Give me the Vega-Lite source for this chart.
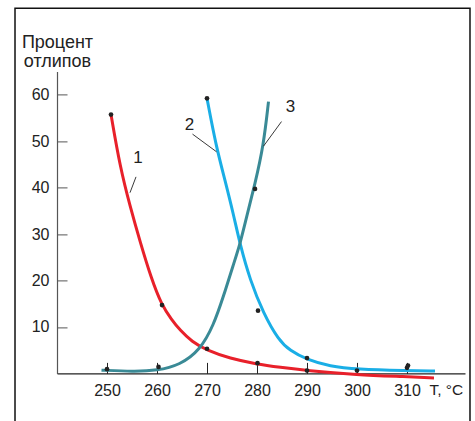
{
  "$schema": "https://vega.github.io/schema/vega-lite/v6.json",
  "width": 408,
  "height": 302,
  "autosize": {"type": "none"},
  "padding": {"left": 57, "top": 71.4, "right": 10, "bottom": 48},
  "background": "white",
  "config": {"view": {"stroke": null}, "font": "Liberation Sans"},
  "datasets": {
    "curves": [
      {"curve": "1", "T": 250.8, "pct": 55.7},
      {"curve": "1", "T": 252.6, "pct": 44.5},
      {"curve": "1", "T": 254.6, "pct": 36.0},
      {"curve": "1", "T": 256.6, "pct": 28.4},
      {"curve": "1", "T": 258.9, "pct": 20.3},
      {"curve": "1", "T": 260.9, "pct": 14.8},
      {"curve": "1", "T": 262.9, "pct": 11.6},
      {"curve": "1", "T": 264.6, "pct": 9.3},
      {"curve": "1", "T": 267.0, "pct": 6.8},
      {"curve": "1", "T": 269.9, "pct": 5.0},
      {"curve": "1", "T": 274.6, "pct": 3.2},
      {"curve": "1", "T": 279.9, "pct": 2.0},
      {"curve": "1", "T": 284.6, "pct": 1.3},
      {"curve": "1", "T": 289.9, "pct": 0.6},
      {"curve": "1", "T": 299.9, "pct": -0.3},
      {"curve": "1", "T": 309.9, "pct": -0.7},
      {"curve": "1", "T": 315.4, "pct": -1.0},
      {"curve": "2", "T": 270.0, "pct": 59.2},
      {"curve": "2", "T": 271.8, "pct": 49.0},
      {"curve": "2", "T": 273.6, "pct": 41.6},
      {"curve": "2", "T": 275.3, "pct": 34.2},
      {"curve": "2", "T": 276.6, "pct": 27.8},
      {"curve": "2", "T": 278.6, "pct": 20.1},
      {"curve": "2", "T": 281.3, "pct": 12.9},
      {"curve": "2", "T": 284.3, "pct": 7.2},
      {"curve": "2", "T": 286.6, "pct": 4.9},
      {"curve": "2", "T": 289.9, "pct": 3.0},
      {"curve": "2", "T": 294.6, "pct": 1.5},
      {"curve": "2", "T": 299.9, "pct": 0.9},
      {"curve": "2", "T": 309.9, "pct": 0.6},
      {"curve": "2", "T": 315.6, "pct": 0.5},
      {"curve": "3", "T": 248.9, "pct": 0.7},
      {"curve": "3", "T": 255.3, "pct": 0.4},
      {"curve": "3", "T": 260.0, "pct": 0.6},
      {"curve": "3", "T": 264.6, "pct": 1.8},
      {"curve": "3", "T": 268.6, "pct": 5.0},
      {"curve": "3", "T": 271.3, "pct": 10.3},
      {"curve": "3", "T": 273.3, "pct": 16.6},
      {"curve": "3", "T": 275.3, "pct": 23.5},
      {"curve": "3", "T": 276.6, "pct": 27.8},
      {"curve": "3", "T": 277.9, "pct": 33.6},
      {"curve": "3", "T": 279.6, "pct": 40.8},
      {"curve": "3", "T": 281.3, "pct": 49.0},
      {"curve": "3", "T": 282.3, "pct": 58.5}
    ],
    "points": [
      {"T": 250.8, "pct": 55.7},
      {"T": 261.0, "pct": 14.7},
      {"T": 270.0, "pct": 59.2},
      {"T": 270.0, "pct": 5.3},
      {"T": 279.6, "pct": 39.7},
      {"T": 280.2, "pct": 13.5},
      {"T": 280.1, "pct": 2.2},
      {"T": 250.0, "pct": 0.9},
      {"T": 260.3, "pct": 1.4},
      {"T": 290.0, "pct": 0.6},
      {"T": 290.0, "pct": 3.3},
      {"T": 300.0, "pct": 0.6},
      {"T": 310.0, "pct": 1.2},
      {"T": 310.2, "pct": 1.7}
    ],
    "leaders": [
      {"T": 255.8, "pct": 42.3, "T2": 254.6, "pct2": 38.9},
      {"T": 267.1, "pct": 51.5, "T2": 271.9, "pct2": 47.7},
      {"T": 284.9, "pct": 54.2, "T2": 281.3, "pct2": 48.9}
    ],
    "labels": [
      {"T": 256.2, "pct": 45.3, "label": "1"},
      {"T": 266.5, "pct": 52.4, "label": "2"},
      {"T": 286.7, "pct": 56.3, "label": "3"}
    ]
  },
  "layer": [
    {
      "data": {"name": "curves"},
      "mark": {"type": "line", "interpolate": "basis", "strokeWidth": 3, "clip": false},
      "encoding": {
        "x": {
          "field": "T", "type": "quantitative",
          "scale": {"domain": [240, 321.6], "nice": false, "zero": false},
          "axis": {
            "values": [250, 260, 270, 280, 290, 300, 310],
            "title": "T, °C", "titleX": 372, "titleY": 9, "titleAlign": "left", "titleBaseline": "top",
            "titleFontSize": 15.5, "titleFontWeight": "normal", "titleColor": "#222",
            "labelFontSize": 16, "labelColor": "#222", "tickSize": -11, "labelPadding": 20,
            "domainColor": "#222", "tickColor": "#222", "domainWidth": 1.2, "tickWidth": 1, "grid": false, "labelFlush": false
          }
        },
        "y": {
          "field": "pct", "type": "quantitative",
          "scale": {"domain": [0, 65], "nice": false, "zero": false},
          "axis": {
            "values": [10, 20, 30, 40, 50, 60],
            "title": ["Процент", "отлипов"], "titleAngle": 0, "titleX": 0, "titleY": -23.4,
            "titleAlign": "center", "titleBaseline": "alphabetic", "titleFontSize": 18, "titleLineHeight": 19,
            "titleFontWeight": "normal", "titleColor": "#222",
            "labelFontSize": 16, "labelColor": "#222", "tickSize": -10, "labelPadding": 18,
            "domainColor": "#555", "tickColor": "#555", "domainWidth": 1.2, "tickWidth": 1, "grid": false
          }
        },
        "color": {"field": "curve", "type": "nominal", "scale": {"domain": ["1", "2", "3"], "range": ["#e8202a", "#1aaee6", "#3a8a96"]}, "legend": null}
      }
    },
    {
      "data": {"name": "points"},
      "mark": {"type": "circle", "color": "#222", "size": 22, "opacity": 1},
      "encoding": {
        "x": {"field": "T", "type": "quantitative"},
        "y": {"field": "pct", "type": "quantitative"}
      }
    },
    {
      "data": {"name": "leaders"},
      "mark": {"type": "rule", "color": "#222", "strokeWidth": 0.9},
      "encoding": {
        "x": {"field": "T", "type": "quantitative"},
        "y": {"field": "pct", "type": "quantitative"},
        "x2": {"field": "T2"},
        "y2": {"field": "pct2"}
      }
    },
    {
      "data": {"name": "labels"},
      "mark": {"type": "text", "fontSize": 17, "color": "#222", "align": "center", "baseline": "alphabetic"},
      "encoding": {
        "x": {"field": "T", "type": "quantitative"},
        "y": {"field": "pct", "type": "quantitative"},
        "text": {"field": "label"}
      }
    },
    {
      "data": {"values": [{}]},
      "mark": {"type": "rect", "fill": "transparent", "stroke": "#111", "strokeWidth": 1.5, "clip": false},
      "encoding": {
        "x": {"datum": 231.6, "type": "quantitative"},
        "x2": {"datum": 322.6},
        "y": {"datum": 78.6, "type": "quantitative"},
        "y2": {"datum": -12}
      }
    }
  ]
}
